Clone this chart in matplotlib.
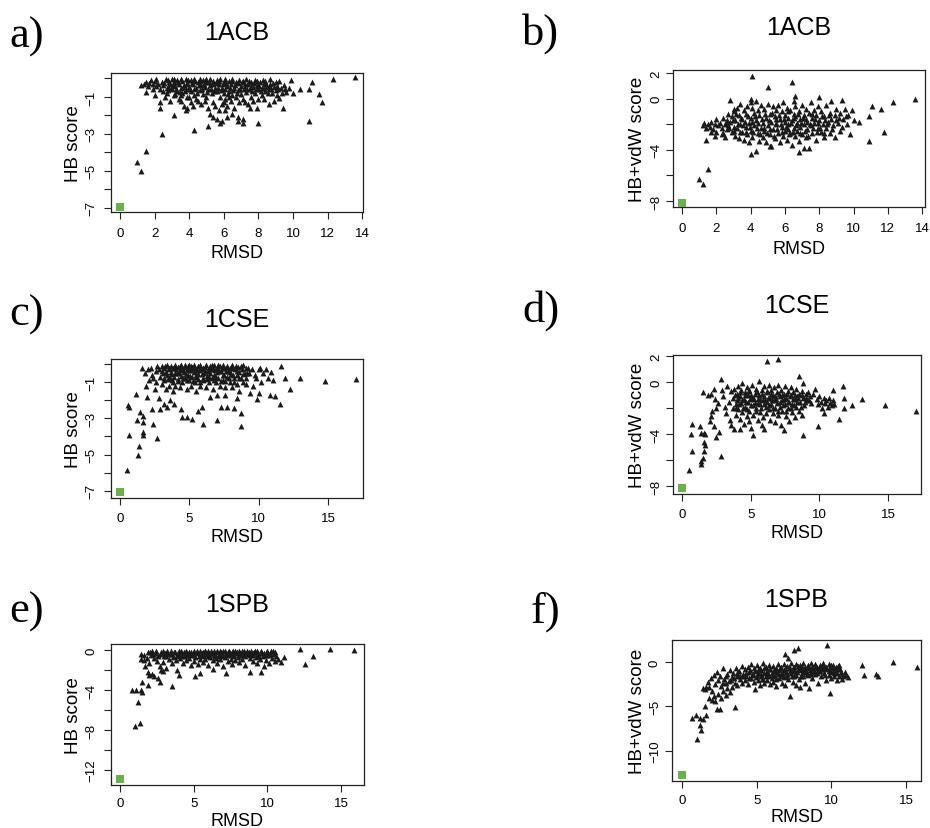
import numpy as np
import matplotlib.pyplot as plt

plt.rcParams["font.family"] = ["Liberation Sans", "DejaVu Sans"]

# decoy points (RMSD, score)
acb_hb = [
    (1.2, -0.35), (1.4, -0.3), (1.5, -0.2), (1.6, -0.4), (1.7, -0.25), (1.8, -0.1), (1.9, -0.3), (2.0, -0.15),
    (2.1, -0.05), (2.1, -0.4), (2.2, -0.3), (2.3, -0.55), (2.4, -0.2), (2.5, -0.35), (2.5, -0.7), (1.9, -0.55),
    (1.5, -0.75), (2.3, -1.3), (2.3, -1.6), (2.0, -0.9), (2.6, -1.0), (2.7, -0.5),
    (2.8, -0.1), (2.9, -0.3), (3.0, -0.05), (3.0, -0.6), (3.1, -0.2), (3.1, -0.9), (3.2, -0.4), (3.3, -0.1),
    (3.3, -0.7), (3.4, -0.3), (3.4, -1.1), (3.5, -0.5), (3.6, -0.15), (3.6, -0.8), (3.7, -0.35), (3.8, -0.05),
    (3.8, -0.6), (3.9, -1.0), (3.9, -0.25), (4.0, -0.45), (2.7, -0.8), (2.9, -1.2), (3.1, -2.0), (3.5, -1.2),
    (3.7, -1.5), (3.9, -1.6), (3.8, -1.7), (3.2, -0.85), (2.8, -0.45), (3.5, -0.9),
    (4.1, -0.1), (4.1, -0.7), (4.2, -0.3), (4.3, -0.05), (4.3, -0.9), (4.4, -0.5), (4.5, -0.2), (4.5, -1.2),
    (4.6, -0.05), (4.6, -0.65), (4.7, -0.35), (4.8, -0.1), (4.8, -0.85), (4.9, -0.45), (5.0, -0.2), (5.0, -1.0),
    (5.1, -0.6), (5.2, -0.05), (5.2, -0.35), (5.3, -0.8), (5.4, -0.15), (5.4, -1.3), (5.5, -0.5), (4.2, -1.5),
    (4.4, -1.1), (4.7, -1.4), (5.1, -1.6), (5.2, -1.9), (5.4, -2.1), (5.6, -2.2), (5.8, -2.4), (5.1, -2.6),
    (4.3, -2.8), (4.9, -1.2), (4.0, -1.0), (4.1, -1.3),
    (5.6, -0.1), (5.6, -0.7), (5.7, -0.3), (5.8, -0.05), (5.8, -1.0), (5.9, -0.5), (5.9, -1.4), (6.0, -0.2),
    (6.0, -0.8), (6.1, -0.05), (6.1, -1.1), (6.2, -0.4), (6.2, -1.5), (6.3, -0.15), (6.3, -0.7), (6.4, -0.3),
    (6.4, -1.2), (6.5, -0.05), (6.5, -0.9), (6.6, -0.5), (6.6, -1.6), (6.7, -0.2), (6.7, -1.0), (6.8, -0.65),
    (6.9, -0.1), (6.9, -1.3), (7.0, -0.4), (7.0, -0.85), (5.7, -1.7), (6.0, -1.3), (6.2, -2.1), (5.9, -2.3),
    (6.8, -2.1), (6.8, -2.3), (7.1, -2.2), (7.1, -2.4), (6.5, -1.9), (6.1, -1.7), (6.3, -1.0), (5.5, -1.5),
    (7.1, -0.15), (7.1, -1.1), (7.2, -0.5), (7.3, -0.05), (7.3, -0.75), (7.4, -0.3), (7.4, -1.4), (7.5, -0.6),
    (7.6, -0.2), (7.6, -1.0), (7.7, -0.45), (7.8, -0.1), (7.8, -0.8), (7.9, -0.35), (8.0, -0.6), (8.0, -1.1),
    (8.1, -0.2), (8.2, -0.5), (8.2, -0.9), (8.3, -0.3), (8.4, -0.7), (8.4, -0.15), (8.5, -0.45), (7.5, -1.6),
    (7.2, -1.3), (7.7, -1.2), (8.0, -2.4), (8.6, -1.4), (8.3, -1.1), (7.9, -1.6),
    (8.6, -0.6), (8.7, -0.05), (8.7, -0.3), (8.8, -0.8), (8.9, -0.45), (9.0, -0.2), (9.0, -0.65), (9.1, -0.9),
    (9.2, -0.15), (9.3, -0.5), (9.4, -1.6), (9.5, -0.35), (9.6, -0.75), (9.8, -0.5), (9.9, -0.1), (10.0, -0.8),
    (9.2, -1.05), (8.9, -1.2),
    (10.4, -0.6), (10.9, -0.55), (10.9, -2.3), (11.1, -0.2), (11.5, -0.85), (11.7, -1.3), (12.3, -0.05),
    (13.6, 0.05), (1.0, -4.5), (1.2, -5.0), (1.5, -3.9), (2.4, -3.0),
    # dense core
    (2.55, -0.25), (2.65, -0.05), (2.75, -0.65), (2.85, -0.2), (2.95, -0.5), (3.05, -0.35), (3.15, -0.05),
    (3.25, -0.55), (3.35, -0.2), (3.45, -0.75), (3.55, -0.05), (3.65, -0.45), (3.75, -0.7), (3.85, -0.3),
    (3.95, -0.1), (4.05, -0.55), (4.15, -0.25), (4.25, -0.6), (4.35, -0.15), (4.45, -0.8), (4.55, -0.35),
    (4.65, -0.15), (4.75, -0.55), (4.85, -0.3), (4.95, -0.05), (5.05, -0.75), (5.15, -0.2), (5.25, -0.55),
    (5.35, -0.3), (5.45, -0.7), (5.55, -0.25), (5.65, -0.5), (5.75, -0.15), (5.85, -0.65), (5.95, -0.3),
    (6.05, -0.55), (6.15, -0.25), (6.25, -0.85), (6.35, -0.5), (6.45, -0.15), (6.55, -0.65), (6.65, -0.35),
    (6.75, -0.8), (6.85, -0.25), (6.95, -0.55), (7.05, -0.2), (7.15, -0.6), (7.25, -0.3), (7.35, -0.55),
    (7.45, -0.15), (7.55, -0.4), (7.65, -0.7), (7.75, -0.25), (7.85, -0.55), (7.95, -0.15), (8.05, -0.4),
    (8.15, -0.7), (8.25, -0.1), (8.35, -0.5), (8.45, -0.3), (8.55, -0.8), (8.65, -0.45), (8.75, -0.6),
    (8.85, -0.25), (9.05, -0.4), (9.15, -0.6), (9.35, -0.8), (9.55, -0.55),
]

acb_hbvdw = [
    (1.2, -2.1), (1.3, -1.9), (1.4, -2.3), (1.5, -2.0), (1.6, -2.2), (1.7, -1.8), (1.8, -2.4), (1.9, -2.0),
    (2.0, -1.6), (2.0, -2.6), (2.1, -2.1), (2.2, -1.9), (2.3, -2.3), (2.4, -1.5), (2.4, -2.7), (2.5, -2.0),
    (2.6, -1.7), (2.6, -2.4), (2.7, -1.2), (2.7, -2.1), (2.8, -0.1), (2.8, -1.8), (2.9, -2.6), (2.9, -1.4),
    (3.0, -2.2), (1.4, -3.2), (1.9, -2.9), (2.3, -2.8), (2.5, -3.0), (1.7, -2.6),
    (3.0, -1.0), (3.1, -1.7), (3.1, -2.9), (3.2, -0.7), (3.2, -2.3), (3.3, -1.3), (3.3, -3.1), (3.4, -2.0),
    (3.4, -0.4), (3.5, -2.6), (3.5, -1.6), (3.6, -3.2), (3.6, -0.9), (3.7, -2.2), (3.7, -1.2), (3.8, -2.8),
    (3.8, -0.6), (3.9, -1.9), (3.9, -3.4), (4.0, -0.3), (4.0, -1.5), (4.0, -2.5), (4.1, -0.7), (4.1, -3.0),
    (4.2, -1.1), (4.2, -2.1), (4.3, -0.2), (4.3, -1.7), (4.4, -2.7), (4.4, -0.9), (4.5, -3.3), (4.5, -1.3),
    (4.6, -2.3), (4.6, -0.5), (4.7, -1.9), (4.7, -3.0), (4.8, -0.8), (4.8, -2.5), (4.9, -1.5), (4.9, -3.4),
    (5.0, -2.1), (5.0, -0.4), (4.0, -4.3), (4.3, -4.1), (3.0, -0.8), (4.0, 0.0),
    (5.1, -1.2), (5.1, -2.8), (5.2, -1.8), (5.2, -3.7), (5.3, -0.6), (5.3, -2.4), (5.4, -1.4), (5.4, -3.1),
    (5.5, -0.9), (5.5, -2.0), (5.6, -2.7), (5.6, -0.5), (5.7, -1.6), (5.7, -3.4), (5.8, -2.2), (5.8, -1.0),
    (5.9, -2.9), (5.9, -0.3), (6.0, -1.8), (6.0, -1.3), (6.0, -2.5), (6.1, -0.7), (6.1, -3.2), (6.2, -2.0),
    (6.2, -1.5), (6.3, -2.7), (6.3, -0.9), (6.4, -1.7), (6.4, -3.6), (6.5, -2.3), (6.5, -0.2), (6.5, -1.2),
    (6.6, -2.9), (6.6, -0.6), (6.7, -1.9), (6.7, -2.5), (6.8, -1.0), (6.8, -3.3), (6.9, -1.6), (6.9, -2.2),
    (7.0, -0.5), (7.0, -2.8), (5.1, -3.7), (6.8, -4.2), (7.1, -3.9), (5.5, -1.6), (6.2, -2.4), (6.6, -1.4),
    (7.1, -1.3), (7.1, -2.0), (7.2, -0.8), (7.2, -3.0), (7.3, -1.8), (7.3, -2.4), (7.4, -1.1), (7.4, -3.9),
    (7.5, -0.3), (7.5, -2.1), (7.6, -1.5), (7.6, -2.7), (7.7, -0.9), (7.7, -1.9), (7.8, -3.2), (7.8, -1.3),
    (7.9, -2.3), (7.9, -0.6), (8.0, 0.1), (8.0, -1.7), (8.1, -2.6), (8.1, -1.0), (8.2, -2.0), (8.3, -1.4),
    (8.3, -3.0), (8.4, -0.5), (8.4, -2.3), (8.5, -1.8), (8.6, -1.1), (8.6, -2.7), (8.7, -0.2), (8.7, -1.6),
    (8.8, -2.1), (8.9, -1.3), (8.9, -3.0), (9.0, -0.8),
    (9.1, -1.9), (9.2, -1.1), (9.2, -2.5), (9.3, -0.1), (9.4, -1.6), (9.5, -0.8), (9.6, -2.0), (9.7, -1.3),
    (9.8, -2.8), (9.9, -0.9), (10.0, -1.7),
    (4.1, 1.8), (5.0, 0.9), (6.4, 1.3), (6.6, 0.2), (10.3, -1.8), (10.9, -1.35), (10.9, -3.3), (11.1, -0.55),
    (11.6, -0.8), (11.75, -2.6), (12.3, -0.3), (13.6, 0.0), (1.0, -6.3), (1.2, -6.7), (1.5, -5.5),
    # dense core
    (2.55, -1.9), (2.75, -2.3), (2.95, -1.7), (3.05, -2.5), (3.15, -1.2), (3.25, -2.0), (3.35, -2.6),
    (3.45, -1.5), (3.55, -2.1), (3.65, -1.8), (3.75, -2.6), (3.85, -1.4), (3.95, -2.2), (4.05, -1.8),
    (4.15, -2.6), (4.25, -1.4), (4.35, -2.3), (4.45, -1.9), (4.55, -2.8), (4.65, -1.6), (4.75, -2.3),
    (4.85, -1.2), (4.95, -2.7), (5.05, -1.7), (5.15, -2.4), (5.25, -1.1), (5.35, -2.9), (5.45, -1.9),
    (5.55, -2.4), (5.65, -1.3), (5.75, -2.0), (5.85, -2.6), (5.95, -1.6), (6.05, -2.2), (6.15, -1.0),
    (6.25, -2.8), (6.35, -1.9), (6.45, -2.6), (6.55, -1.5), (6.65, -2.1), (6.75, -1.2), (6.85, -2.7),
    (6.95, -1.9), (7.05, -1.5), (7.15, -2.5), (7.25, -1.6), (7.35, -2.9), (7.45, -2.0), (7.55, -1.2),
    (7.65, -2.3), (7.75, -1.6), (7.85, -2.6), (7.95, -1.9), (8.05, -2.3), (8.15, -1.4), (8.25, -2.7),
    (8.35, -1.7), (8.45, -2.0), (8.55, -1.3), (8.75, -2.4), (8.95, -1.7), (9.15, -1.5), (9.35, -2.2),
    (9.55, -1.4),
]

cse_hb = [
    (0.5, -5.85), (0.6, -2.25), (0.62, -2.35), (0.65, -3.9), (1.15, -1.65), (1.2, -3.1), (1.3, -5.0),
    (1.4, -4.5), (1.45, -2.65), (1.65, -2.85), (1.65, -3.2), (1.65, -3.75), (1.65, -3.9), (1.55, -0.2),
    (1.9, -1.2), (1.95, -1.8), (2.3, -2.5), (2.35, -3.3), (2.7, -4.1), (2.9, -2.5), (2.1, -0.9), (2.3, -0.6),
    (2.5, -1.4), (2.8, -1.9), (3.2, -2.2), (3.4, -2.4), (3.6, -2.0), (3.9, -2.2), (4.4, -2.5), (4.5, -2.9),
    (4.8, -2.95), (5.2, -3.05), (5.6, -2.6), (5.9, -2.4), (6.0, -3.3), (7.0, -3.1), (7.3, -2.4), (7.7, -2.4),
    (8.2, -2.45), (8.7, -2.7), (8.7, -3.4), (6.5, -1.8), (7.0, -1.7), (7.6, -1.7), (8.4, -1.9), (9.85, -1.95),
    (10.0, -1.6), (10.8, -1.7), (11.2, -1.75), (11.5, -2.2), (12.25, -1.4), (11.6, -0.1), (11.9, -0.8),
    (13.0, -0.8), (14.8, -0.95), (17.0, -0.85), (10.0, -0.3), (10.3, -0.5), (10.5, -0.3), (10.7, -0.75),
    (10.9, -0.45), (11.0, -0.9), (9.6, -1.2), (9.3, -0.5), (9.8, -0.8), (10.2, -1.0), (9.4, -1.6), (9.1, -1.1),
    (2.8, -0.3), (2.9, -0.7), (3.0, -0.1), (3.0, -1.1), (3.1, -0.5), (3.2, -0.2), (3.2, -0.9), (3.3, -1.4),
    (3.4, -0.05), (3.4, -0.6), (3.5, -0.3), (3.5, -1.2), (3.6, -0.8), (3.7, -0.1), (3.7, -0.45), (3.8, -1.0),
    (3.8, -1.5), (3.9, -0.25), (3.9, -0.7), (4.0, -0.05), (4.0, -1.2), (4.1, -0.5), (4.2, -0.15), (4.2, -0.85),
    (4.3, -0.35), (4.3, -1.3), (4.4, -0.05), (4.4, -0.65), (4.5, -0.2), (4.5, -1.0), (4.6, -0.45), (4.7, -0.05),
    (4.7, -0.8), (4.8, -0.3), (4.8, -1.4), (4.9, -0.1), (4.9, -0.6), (5.0, -0.05), (5.0, -0.9), (5.1, -0.35),
    (5.1, -1.2), (5.2, -0.15), (5.2, -0.7), (5.3, -0.05), (5.3, -0.45), (5.4, -1.0), (5.4, -0.25), (5.5, -0.6),
    (5.5, -1.5), (5.6, -0.1), (5.6, -0.85), (5.7, -0.35), (5.8, -0.05), (5.8, -1.2), (5.9, -0.55), (6.0, -0.2),
    (6.0, -0.9), (6.1, -0.4), (6.2, -0.05), (6.2, -1.3), (6.3, -0.65), (6.4, -0.25), (6.4, -1.0), (6.5, -0.1),
    (6.5, -0.5), (6.6, -0.8), (6.7, -0.3), (6.7, -1.4), (6.8, -0.05), (6.8, -0.6), (6.9, -1.0), (7.0, -0.2),
    (7.0, -0.45), (7.1, -0.75), (7.2, -0.1), (7.2, -1.2), (7.3, -0.4), (7.4, -0.05), (7.4, -0.9), (7.5, -0.6),
    (7.5, -0.25), (7.6, -1.3), (7.7, -0.1), (7.7, -0.7), (7.8, -0.4), (7.9, -1.0), (7.9, -0.2), (8.0, -0.55),
    (8.1, -0.05), (8.1, -1.3), (8.2, -0.8), (8.3, -0.3), (8.4, -0.6), (8.4, -1.1), (8.5, -0.15), (8.6, -0.45),
    (8.6, -1.5), (8.7, -0.75), (8.8, -0.3), (8.9, -0.05), (8.9, -1.0), (9.0, -0.5), (9.1, -0.8), (9.2, -0.2),
    (1.8, -0.5), (2.0, -0.3), (2.2, -0.2), (2.4, -0.8), (2.6, -0.4), (2.6, -1.0), (2.7, -0.1), (9.5, -0.3),
    (9.7, -0.6), (10.1, -0.2),
    # dense core
    (3.05, -0.4), (3.15, -0.75), (3.25, -0.1), (3.35, -0.45), (3.45, -0.85), (3.55, -0.2), (3.65, -0.55),
    (3.75, -0.9), (3.85, -0.2), (3.95, -0.5), (4.05, -0.3), (4.15, -0.95), (4.25, -0.5), (4.35, -0.1),
    (4.45, -0.35), (4.55, -0.75), (4.65, -0.15), (4.75, -0.55), (4.85, -0.9), (4.95, -0.35), (5.05, -0.65),
    (5.15, -0.1), (5.25, -0.95), (5.35, -0.25), (5.45, -0.7), (5.55, -0.35), (5.65, -0.55), (5.75, -1.0),
    (5.85, -0.3), (5.95, -0.75), (6.05, -0.5), (6.15, -0.15), (6.25, -0.85), (6.35, -0.4), (6.45, -0.7),
    (6.55, -0.3), (6.65, -0.05), (6.75, -0.9), (6.85, -0.35), (6.95, -0.7), (7.05, -0.05), (7.15, -0.4),
    (7.25, -0.95), (7.35, -0.25), (7.45, -0.6), (7.55, -0.95), (7.65, -0.4), (7.75, -0.15), (7.85, -0.75),
    (7.95, -0.45), (8.05, -0.25), (8.15, -0.6), (8.25, -1.0), (8.35, -0.1), (8.45, -0.4), (8.55, -0.8),
    (8.75, -0.1), (8.85, -0.55), (9.05, -0.25), (9.15, -0.5),
]

cse_hbvdw = [
    (0.5, -6.75), (0.7, -5.3), (0.65, -4.0), (0.7, -3.2), (1.3, -3.4), (1.4, -3.9), (1.6, -3.9), (1.7, -4.0),
    (1.6, -4.6), (1.65, -4.8), (1.6, -5.3), (1.5, -5.8), (1.4, -6.1), (1.35, -6.3), (2.0, -3.0), (2.1, -2.6),
    (2.3, -3.4), (2.45, -4.2), (2.7, -3.8), (2.8, -5.7), (2.2, -2.2), (2.5, -2.0), (2.6, -1.6), (2.4, -1.3),
    (1.55, -0.75), (1.9, -1.0), (2.3, -0.5), (2.1, -0.9), (2.8, 0.2), (2.9, -0.6), (3.0, -1.1), (3.1, -1.9),
    (3.2, -2.4), (3.3, -0.3), (3.4, -1.5), (3.5, -2.9), (3.6, -3.3), (3.6, -0.7), (3.7, -2.0), (3.8, -3.6),
    (3.7, -1.2), (3.8, -0.5), (3.9, -1.7), (3.9, -2.5), (4.0, -0.9), (4.0, -1.4), (4.1, -0.3), (4.1, -2.1),
    (4.2, -1.1), (4.2, -2.8), (4.3, -0.6), (4.3, -1.6), (4.4, -2.3), (4.4, -0.1), (4.5, -1.3), (4.5, -3.2),
    (4.6, -0.8), (4.6, -1.9), (4.7, -2.6), (4.7, -0.4), (4.8, -1.5), (4.8, -1.0), (4.9, -2.2), (4.9, -0.7),
    (5.0, -1.8), (5.0, -3.5), (5.1, -0.2), (5.1, -1.2), (5.2, -2.5), (5.2, -4.1), (5.3, -0.9), (5.3, -1.6),
    (5.4, -2.0), (5.4, -0.5), (5.5, -1.3), (5.5, -2.9), (5.6, 0.1), (5.6, -1.0), (5.7, -1.7), (5.7, -2.3),
    (5.8, -0.6), (5.8, -3.3), (5.9, -1.4), (5.9, -2.7), (6.0, -0.3), (6.0, -1.1), (6.0, -3.6), (6.1, -1.9),
    (6.1, -2.4), (4.2, -3.6), (4.9, -3.0),
    (6.2, -0.8), (6.2, -1.5), (6.3, -2.1), (6.3, -0.2), (6.4, -1.2), (6.4, -2.9), (6.5, -0.6), (6.5, -1.7),
    (6.6, -2.4), (6.6, -1.0), (6.7, -0.4), (6.7, -1.4), (6.8, -2.0), (6.8, -3.1), (6.9, -0.8), (6.9, -1.6),
    (7.0, -2.5), (7.0, -0.2), (7.1, -1.1), (7.1, -1.9), (7.2, -0.6), (7.2, -3.3), (7.3, -1.4), (7.3, -2.2),
    (7.4, -0.9), (7.4, -3.7), (7.5, -1.7), (7.5, -0.3), (7.6, -2.6), (7.6, -1.2), (7.7, -0.7), (7.7, -2.0),
    (7.8, -1.5), (7.8, -3.0), (7.9, -0.4), (7.9, -1.0), (8.0, -2.3), (8.0, -1.7), (6.2, 1.65), (6.95, 1.75),
    (8.1, -0.8), (8.2, -1.3), (8.2, -2.7), (8.3, -0.5), (8.3, -1.9), (8.4, -1.1), (8.5, -2.2), (8.5, -0.9),
    (8.55, 0.5), (8.6, -1.5), (8.7, -0.7), (8.7, -2.5), (8.8, -0.05), (8.8, -1.2), (8.8, -4.1), (8.9, -1.8),
    (9.0, -0.9), (9.1, -1.4), (9.2, -0.8), (9.3, -1.1), (9.4, -1.6), (9.5, -0.9),
    (9.7, -0.55), (9.8, -1.3), (9.9, -1.7), (9.9, -3.4), (10.0, -1.1), (10.1, -1.5), (10.2, -2.0),
    (10.3, -2.4), (10.3, -1.2), (10.4, -1.6), (10.5, -1.4), (10.6, -1.9), (10.7, -1.2), (10.8, -1.6),
    (10.9, -1.8), (11.0, -1.4), (11.0, -0.6), (11.1, -1.7), (11.4, -2.8), (11.7, -0.33), (11.8, -1.2),
    (11.8, -2.0), (12.35, -1.8), (13.1, -1.3), (14.8, -1.8), (17.0, -2.2),
    # dense core
    (3.85, -1.0), (3.95, -2.0), (4.05, -1.2), (4.15, -1.7), (4.25, -0.8), (4.35, -1.4), (4.45, -2.0),
    (4.55, -1.0), (4.65, -1.5), (4.75, -2.1), (4.85, -0.6), (4.95, -1.3), (5.05, -1.0), (5.15, -1.8),
    (5.25, -1.3), (5.35, -2.2), (5.45, -0.8), (5.55, -1.6), (5.65, -1.3), (5.75, -2.0), (5.85, -0.9),
    (5.95, -1.7), (6.05, -1.4), (6.15, -0.7), (6.25, -1.2), (6.35, -1.8), (6.45, -0.9), (6.55, -1.4),
    (6.65, -2.0), (6.75, -1.1), (6.85, -1.3), (6.95, -2.2), (7.05, -0.9), (7.15, -1.5), (7.25, -1.0),
    (7.35, -1.8), (7.45, -1.3), (7.55, -2.2), (7.65, -0.9), (7.75, -1.5), (7.85, -1.1), (7.95, -2.0),
    (8.05, -1.3), (8.15, -1.8), (8.25, -1.0), (8.35, -1.5), (8.45, -1.2), (8.65, -1.9), (8.75, -1.0),
    (8.95, -1.5), (9.05, -1.2), (9.25, -1.4),
]

spb_hb = [
    (1.0, -7.6), (1.35, -7.3), (1.2, -5.2), (0.8, -4.0), (1.1, -4.0), (1.45, -4.0), (1.5, -4.2), (1.5, -3.2),
    (1.9, -3.5), (2.7, -3.2), (2.6, -2.8), (2.3, -2.6), (2.2, -2.4), (1.9, -2.2), (2.0, -2.5), (1.7, -1.6),
    (3.55, -3.6), (1.4, -0.4), (1.4, -0.9), (1.6, -0.5), (1.6, -1.0), (1.8, -0.8), (1.9, -0.2), (2.0, -1.3),
    (2.1, -0.5), (2.2, -0.1), (2.3, -0.8), (2.4, -0.3), (2.5, -1.1), (2.6, -0.5), (2.7, -1.6), (2.8, -2.0),
    (2.8, -0.2), (2.9, -1.2), (3.0, -0.6), (3.1, -1.8), (2.9, -2.1), (3.2, -0.1), (3.3, -0.9), (3.4, -0.4),
    (3.5, -1.3), (3.6, -0.7), (3.7, -0.15), (3.8, -1.0), (3.9, -0.45), (3.9, -2.0), (4.0, -2.5), (4.0, -0.1),
    (4.1, -0.8), (4.2, -0.3), (4.3, -1.3), (4.4, -0.6), (4.5, -0.05), (4.5, -1.0), (4.6, -0.4), (4.7, -0.75),
    (4.8, -0.15), (4.8, -1.5), (4.9, -0.5), (5.0, -1.1), (5.0, -0.05), (5.1, -2.6), (5.1, -0.7), (5.2, -0.3),
    (5.3, -1.4), (5.4, -0.05), (5.4, -0.9), (5.45, -2.3), (5.5, -0.45), (5.6, -0.15), (5.6, -1.2), (5.7, -0.6),
    (5.8, -0.05), (5.8, -0.9), (5.9, -0.35), (6.0, -1.5), (6.0, -0.1), (6.1, -0.7), (6.2, -0.25), (6.3, -1.9),
    (6.3, -1.0), (6.4, -0.05), (6.4, -0.5), (6.5, -0.8), (6.6, -0.2), (6.6, -1.3), (6.7, -0.55), (6.8, -0.05),
    (6.8, -0.9), (6.9, -0.35), (7.0, -1.6), (7.0, -0.1), (7.1, -0.7), (7.2, -2.3), (7.2, -0.3), (7.3, -1.1),
    (7.4, -0.05), (7.4, -0.5), (7.5, -0.85), (7.6, -0.2), (7.6, -1.4), (7.7, -0.6), (7.8, -0.05), (7.8, -1.0),
    (7.9, -0.3), (8.0, -0.7), (8.1, -0.1), (8.1, -1.2), (8.2, -0.45), (8.3, -0.05), (8.3, -0.9), (8.4, -0.25),
    (8.5, -1.5), (8.5, -0.6), (8.6, -0.05), (8.7, -0.35), (8.8, -0.8), (8.8, -2.2), (8.9, -0.1), (9.0, -1.1),
    (9.0, -0.5), (9.1, -0.2), (9.2, -0.7), (9.3, -0.05), (9.3, -1.3), (9.4, -0.4), (9.5, -0.9), (9.6, -0.1),
    (9.6, -2.2), (9.7, -0.6), (9.8, -1.6), (9.8, -0.25), (9.9, -1.0), (10.0, -0.05), (10.0, -0.5),
    (10.1, -1.3), (10.2, -0.3), (10.3, -0.8), (10.4, -0.1), (10.5, -1.1), (10.6, -0.6), (10.7, -0.9),
    (10.9, -1.2), (11.1, -0.7), (12.2, 0.1), (12.55, -1.4), (13.1, -0.6), (14.25, 0.1), (15.85, 0.0),
    # dense core
    (2.05, -0.2), (2.25, -0.4), (2.45, -0.05), (2.55, -0.6), (2.75, -0.35), (2.95, -0.1), (3.05, -0.3),
    (3.15, -0.6), (3.25, -0.25), (3.45, -0.05), (3.55, -0.4), (3.65, -0.2), (3.85, -0.6), (3.95, -0.25),
    (4.05, -0.45), (4.15, -0.05), (4.25, -0.6), (4.35, -0.2), (4.55, -0.5), (4.65, -0.15), (4.75, -0.35),
    (4.95, -0.25), (5.05, -0.45), (5.25, -0.1), (5.35, -0.6), (5.55, -0.25), (5.65, -0.4), (5.75, -0.1),
    (5.95, -0.6), (6.05, -0.35), (6.15, -0.05), (6.35, -0.3), (6.45, -0.6), (6.55, -0.1), (6.75, -0.4),
    (6.85, -0.2), (6.95, -0.6), (7.15, -0.1), (7.25, -0.45), (7.35, -0.2), (7.55, -0.35), (7.65, -0.1),
    (7.75, -0.5), (7.95, -0.15), (8.05, -0.45), (8.15, -0.25), (8.35, -0.4), (8.45, -0.05), (8.55, -0.35),
    (8.75, -0.15), (8.85, -0.5), (9.05, -0.3), (9.15, -0.05), (9.35, -0.25), (9.45, -0.6), (9.65, -0.3),
    (9.85, -0.45), (9.95, -0.15), (10.15, -0.5), (10.25, -0.1), (10.45, -0.4), (10.55, -0.2),
]

spb_hbvdw = [
    (0.65, -6.35), (1.0, -8.7), (1.2, -7.1), (1.25, -7.7), (0.9, -6.0), (1.2, -6.3), (1.4, -6.4), (1.5, -4.9),
    (1.6, -6.0), (1.8, -4.1), (2.0, -4.3), (1.4, -2.9), (1.6, -2.8), (1.5, -3.0), (1.8, -2.8), (2.0, -3.3),
    (2.1, -3.8), (2.2, -4.4), (2.3, -5.3), (2.5, -5.3), (2.4, -3.6), (2.6, -4.0), (2.7, -3.2), (2.9, -3.7),
    (3.0, -2.9), (3.2, -3.4), (3.56, -5.05), (1.7, -2.2), (1.9, -1.8), (2.1, -1.4), (2.2, -2.5), (2.3, -1.1),
    (2.4, -2.0), (2.5, -1.6), (2.6, -2.7), (2.7, -0.7), (2.8, -1.9), (2.9, -2.4), (3.0, -1.3), (3.1, -2.1),
    (3.2, -0.9), (3.3, -1.7), (3.3, -2.8), (3.4, -1.2), (3.5, -2.3), (3.6, -0.6), (3.7, -1.5), (3.7, -2.6),
    (3.8, -1.0), (3.9, -1.9), (4.0, -0.4), (4.0, -2.3),
    (4.1, -1.3), (4.2, -0.8), (4.2, -2.0), (4.3, -1.6), (4.4, -0.5), (4.4, -2.5), (4.5, -1.1), (4.6, -1.8),
    (4.6, -0.2), (4.7, -1.4), (4.8, -2.2), (4.8, -0.7), (4.9, -1.0), (4.9, -3.0), (5.0, -1.6), (5.0, -0.3),
    (5.1, -2.0), (5.1, -1.2), (5.2, -0.6), (5.2, -2.6), (5.3, -1.5), (5.3, -0.9), (5.4, -1.9), (5.4, -0.1),
    (5.5, -1.2), (5.5, -2.3), (5.6, -0.5), (5.6, -1.6), (5.7, -1.0), (5.7, -2.0), (5.8, -0.3), (5.8, -1.4),
    (5.9, -2.5), (5.9, -0.8), (6.0, -1.2), (6.0, -1.8), (6.1, -0.4), (6.1, -2.2), (6.2, -1.0), (6.2, -1.5),
    (6.3, -0.6), (6.3, -2.7), (6.4, -1.3), (6.4, -0.2), (6.5, -1.8), (6.5, -0.9),
    (6.6, -1.4), (6.6, -0.5), (6.7, -2.3), (6.7, -1.1), (6.8, -0.2), (6.8, -1.7), (6.87, 0.98), (6.9, -0.8),
    (6.9, -2.6), (7.0, -1.3), (7.0, -0.4), (7.1, 0.5), (7.1, -1.9), (7.2, -0.7), (7.2, -3.85), (7.3, -1.2),
    (7.3, -0.1), (7.4, -2.2), (7.4, -0.9), (7.5, 1.35), (7.5, -0.5), (7.5, -1.6), (7.6, -2.6), (7.6, -0.2),
    (7.7, -1.1), (7.77, 1.65), (7.8, -0.6), (7.8, -1.9), (7.9, -0.3), (7.9, -2.8), (8.0, -1.2), (8.0, -0.8),
    (8.1, -0.1), (8.1, -1.6), (8.2, -0.5), (8.2, -2.4), (8.3, -1.0), (8.4, -0.3), (8.4, -1.4), (8.5, -0.7),
    (8.5, -2.9), (8.6, -0.1), (8.6, -1.1), (8.7, -0.5), (8.7, -1.8), (8.8, -0.9), (8.9, -0.2), (8.9, -1.3),
    (9.0, -0.6),
    (9.1, -1.0), (9.1, -2.4), (9.2, -0.3), (9.3, -0.8), (9.3, -1.6), (9.4, -0.1), (9.5, -1.2), (9.5, -0.5),
    (9.6, -2.0), (9.7, -0.8), (9.7, 2.0), (9.8, -1.4), (9.8, -0.2), (9.9, -3.5), (9.9, -0.6), (10.0, -1.1),
    (10.0, -1.8), (10.1, -0.3), (10.2, -0.9), (10.2, -1.5), (10.3, -0.5), (10.4, -1.2), (10.4, -2.0),
    (10.5, -0.3), (10.5, -1.6), (10.6, -0.8), (10.7, -1.9), (10.7, -1.3), (10.8, -1.6), (10.9, -1.1),
    (11.0, -1.4), (11.1, -1.7), (12.05, -0.35), (12.2, -1.4), (13.0, -1.35), (13.1, -1.5), (14.15, 0.0),
    (15.7, -0.5),
    # dense core
    (4.05, -1.6), (4.25, -1.2), (4.45, -1.8), (4.55, -0.9), (4.75, -1.3), (4.95, -1.7), (5.05, -0.9),
    (5.25, -1.3), (5.35, -1.9), (5.45, -0.7), (5.65, -1.2), (5.75, -1.6), (5.85, -0.8), (6.05, -1.4),
    (6.15, -0.9), (6.25, -1.9), (6.35, -1.1), (6.55, -0.6), (6.65, -1.2), (6.75, -1.5), (6.85, -0.9),
    (6.95, -1.1), (7.05, -1.6), (7.15, -0.6), (7.25, -1.0), (7.35, -1.5), (7.45, -0.6), (7.55, -1.0),
    (7.65, -1.4), (7.75, -0.4), (7.85, -0.9), (7.95, -1.5), (8.05, -0.5), (8.15, -1.1), (8.25, -0.7),
    (8.35, -1.3), (8.45, -0.4), (8.55, -0.9), (8.65, -1.3), (8.75, -0.6), (8.85, -1.0), (8.95, -0.4),
    (9.05, -1.2), (9.15, -0.6), (9.25, -1.0), (9.35, -0.4), (9.45, -0.8), (9.55, -1.4), (9.65, -0.5),
    (9.85, -1.0), (9.95, -0.3), (10.05, -0.7), (10.15, -1.2), (10.35, -0.8), (10.45, -0.4), (10.65, -1.1),
    (3.45, -1.8), (3.65, -1.2), (3.85, -1.5), (3.25, -2.0), (2.95, -1.6), (2.75, -2.3),
]

# native structure (green square) score per panel
native_score = [-6.95, -8.15, -7.05, -8.15, -12.9, -12.76]

letters = ["a)", "b)", "c)", "d)", "e)", "f)"]
titles = ["1ACB", "1ACB", "1CSE", "1CSE", "1SPB", "1SPB"]
ylabels = ["HB score", "HB+vdW score"] * 3
decoys = [acb_hb, acb_hbvdw, cse_hb, cse_hbvdw, spb_hb, spb_hbvdw]

xticks = [range(0, 15, 2), range(0, 15, 2), [0, 5, 10, 15], [0, 5, 10, 15], [0, 5, 10, 15], [0, 5, 10, 15]]
yticks = [[0, -1, -2, -3, -4, -5, -6, -7], [2, 0, -2, -4, -6, -8],
          [0, -1, -2, -3, -4, -5, -6, -7], [2, 0, -2, -4, -6, -8],
          [0, -2, -4, -6, -8, -10, -12], [0, -5, -10]]
ylabeled = [[-1, -3, -5, -7], [2, 0, -4, -8], [-1, -3, -5, -7], [2, 0, -4, -8], [0, -4, -8, -12], [0, -5, -10]]

W, H = 930, 829
# axes boxes in pixels: left, top, right, bottom
boxes = [(111, 74, 363, 213), (673, 71, 925, 208),
         (111, 360, 363, 499), (673, 356, 921, 495),
         (111, 645, 364, 786), (672, 641, 921, 782)]
xlims = [(-0.52, 14.05), (-0.53, 14.17), (-0.65, 17.52), (-0.66, 17.4), (-0.61, 16.56), (-0.69, 16.0)]
ylims = [(-7.22, 0.29), (-8.47, 2.23), (-7.39, 0.27), (-8.6, 2.08), (-13.5, 0.6), (-13.44, 2.52)]
letter_pos = [(27, 37), (541, 34), (27, 315), (541, 311), (27, 612), (546, 612)]
title_base = [40, 35, 327, 313, 612, 607]
ylab_off = [38, 36, 38, 36, 38, 35]
xlab_off = [40, 42, 39, 39, 36, 36]
xtick_pad = [5.5, 5.5, 5.0, 5.0, 4.0, 4.5]
ytick_pad = [4.6, 2.4, 4.6, 2.4, 4.6, 3.0]

fig = plt.figure(figsize=(W / 100, H / 100), dpi=100)

for i in range(6):
    l, t, r, b = boxes[i]
    ax = fig.add_axes([l / W, 1 - b / H, (r - l) / W, (b - t) / H])
    pts = np.array(decoys[i])
    ax.scatter(pts[:, 0], pts[:, 1], marker="^", s=18, color="#1a1a1a", linewidths=0, zorder=2)
    ax.scatter([0], [native_score[i]], marker="s", s=38, color="#6ab04c", linewidths=0, zorder=3)
    ax.set_xlim(*xlims[i])
    ax.set_ylim(*ylims[i])

    ax.set_xticks(list(xticks[i]))
    ax.set_xticklabels([str(v) for v in xticks[i]])
    ax.set_yticks(yticks[i])
    ax.set_yticklabels([("\u2212" + str(-v) if v < 0 else str(v)) if v in ylabeled[i] else "" for v in yticks[i]])
    ax.tick_params(axis="both", direction="out", length=5, width=0.8, labelsize=9.5, color="#222222")
    ax.tick_params(axis="x", pad=xtick_pad[i])
    ax.tick_params(axis="y", pad=ytick_pad[i])
    for lab in ax.get_yticklabels():
        lab.set_rotation(90)
        lab.set_va("center")
    for sp in ax.spines.values():
        sp.set_linewidth(0.9)
        sp.set_color("#222222")

    ax.set_xlabel("RMSD", fontsize=13)
    ax.xaxis.set_label_coords(0.5, -xlab_off[i] / (b - t))
    ax.xaxis.label.set_va("center")
    ax.set_ylabel(ylabels[i], fontsize=13.5)
    ax.yaxis.set_label_coords(-ylab_off[i] / (r - l), 0.5)
    ax.yaxis.label.set_va("center")

    fig.text((l + r) / 2 / W, 1 - title_base[i] / H, titles[i], ha="center", va="baseline", fontsize=18)
    fig.text(letter_pos[i][0] / W, 1 - letter_pos[i][1] / H, letters[i], ha="center", va="center",
             fontsize=32, family="Liberation Serif")

fig.savefig("out.png", dpi=100)
